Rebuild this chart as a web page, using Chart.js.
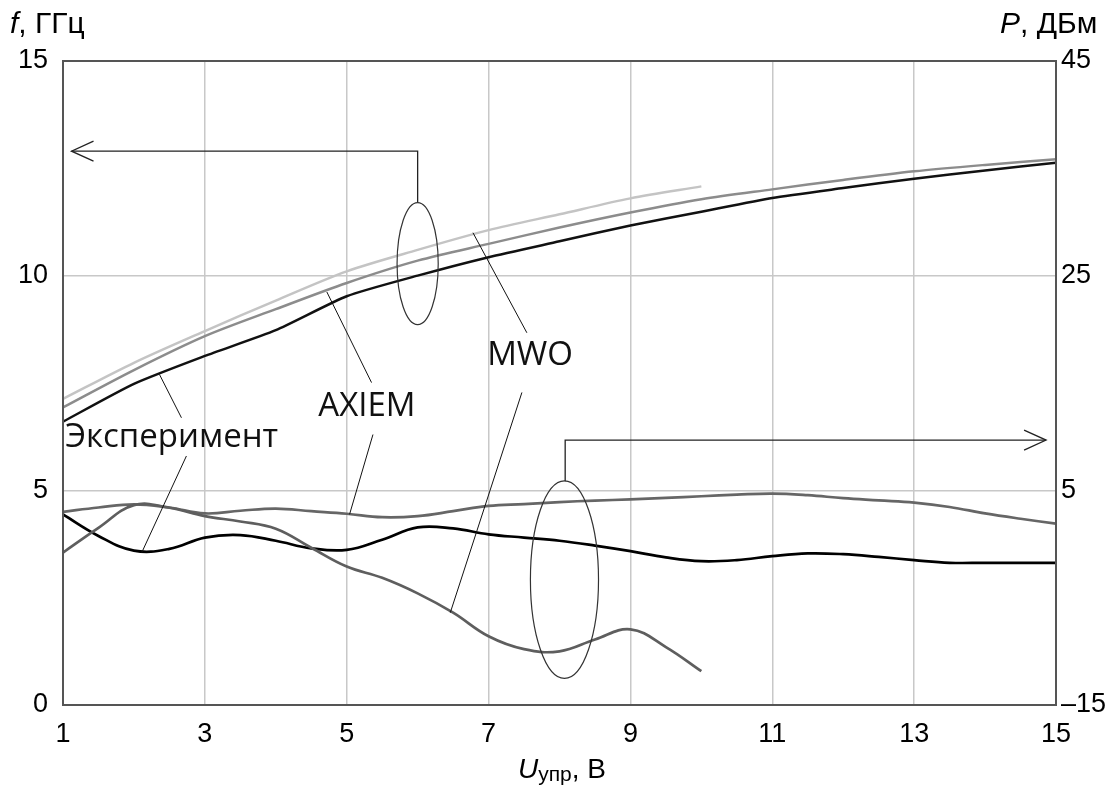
<!DOCTYPE html>
<html>
<head>
<meta charset="utf-8">
<script src="https://cdn.jsdelivr.net/npm/chart.js@4.4.1/dist/chart.umd.min.js"></script>
<style>
    html, body { margin: 0; padding: 0; background: #fff; }
    #wrap { width: 1116px; height: 787px; }
</style>
</head>
<body>
<div id="wrap"><canvas id="chart" width="1116" height="787"></canvas></div>
<script>
// =======================
// DATA
// =======================
// control voltage, V
const uCoarse = [1, 2, 3, 4, 5, 6, 7, 8, 9, 10, 11, 12, 13, 14, 15];
const uFine = [1, 1.5, 2, 2.5, 3, 3.5, 4, 4.5, 5, 5.5, 6, 6.5, 7, 7.5, 8, 8.5,
    9, 9.5, 10, 10.5, 11, 11.5, 12, 12.5, 13, 13.5, 14, 14.5, 15];

// frequency, GHz (left axis)
const fExperiment = [6.6, 7.48, 8.13, 8.73, 9.52, 10.0, 10.43, 10.8, 11.17, 11.49, 11.81, 12.04, 12.26, 12.45, 12.63];
const fAxiem = [6.93, 7.8, 8.59, 9.22, 9.83, 10.35, 10.74, 11.12, 11.47, 11.78, 12.01, 12.23, 12.43, 12.58, 12.71];
const fMwo = [7.13, 7.97, 8.71, 9.42, 10.1, 10.6, 11.06, 11.43, 11.8, 12.08]; // up to 10 V

// power, dBm (right axis)
const pExperiment = [2.75, 0.75, -0.62, -0.45, 0.6, 0.83, 0.3, -0.4, -0.55, 0.4, 1.55, 1.45, 0.9, 0.6, 0.3,
    -0.15, -0.67, -1.25, -1.6, -1.5, -1.13, -0.88, -0.95, -1.2, -1.5, -1.75, -1.75, -1.75, -1.75];
const pAxiem = [3.0, 3.4, 3.7, 3.4, 2.85, 3.1, 3.3, 3.06, 2.82, 2.5, 2.6, 3.06, 3.55, 3.72, 3.9,
    4.05, 4.15, 4.3, 4.45, 4.6, 4.7, 4.55, 4.27, 4.06, 3.85, 3.45, 2.85, 2.35, 1.9];
const pMwo = [-0.8, 1.5, 3.62, 3.38, 2.6, 2.1, 1.42, -0.35, -2.1, -3.15, -4.6, -6.4, -8.6, -9.8, -10.0,
    -8.9, -7.95, -9.6, -11.85]; // up to 10 V

// axis ticks
const xTicks = { min: 1, max: 15, step: 2 };
const fTicks = { min: 0, max: 15, step: 5 };
const pTicks = { min: -15, max: 45, step: 20 };

const pairs = (xs, ys) => ys.map((v, i) => ({ x: xs[i], y: v }));

// =======================
// ANNOTATIONS (data units: x in V, y in GHz)
// =======================
const leftArrow = { tipX: 1.12, cornerX: 6.0, y: 12.9, downTo: 11.7 };
const rightArrow = { tipX: 14.86, cornerX: 8.08, y: 6.17, downTo: 5.21 };
const ellipses = [
    { cx: 6.0, cy: 10.28, rx: 0.29, ry: 1.42 },
    { cx: 8.07, cy: 2.92, rx: 0.48, ry: 2.3 }
];
const leaders = [
    [2.67, 6.69, 2.36, 7.70],
    [5.35, 7.51, 4.72, 9.62],
    [7.54, 8.67, 6.78, 11.0],
    [2.74, 5.80, 2.11, 3.55],
    [5.37, 6.30, 5.04, 4.44],
    [7.47, 7.28, 6.46, 2.15]
];
const labels = [
    { text: "Эксперимент", x: 1.03, y: 6.0 },
    { text: "AXIEM", x: 4.6, y: 6.74 },
    { text: "MWO", x: 6.98, y: 7.91 }
];

const SANS = "'Liberation Sans', Arial, sans-serif";

const annotationPlugin = {
    id: "annotations",
    afterDatasetsDraw(chart) {
        const { ctx, chartArea: a, scales } = chart;
        const px = v => scales.x.getPixelForValue(v);
        const py = v => scales.y.getPixelForValue(v);
        ctx.save();

        // frame
        ctx.strokeStyle = "#555";
        ctx.lineWidth = 2;
        ctx.strokeRect(a.left, a.top, a.right - a.left, a.bottom - a.top);

        // arrows
        ctx.strokeStyle = "#222";
        ctx.lineWidth = 1.3;
        [leftArrow, rightArrow].forEach(ar => {
            const tx = px(ar.tipX), cx = px(ar.cornerX), yy = py(ar.y);
            const dir = tx < cx ? 1 : -1;
            ctx.beginPath();
            ctx.moveTo(cx, py(ar.downTo));
            ctx.lineTo(cx, yy);
            ctx.lineTo(tx, yy);
            ctx.stroke();
            ctx.beginPath();
            ctx.moveTo(tx + dir * 22, yy - 10);
            ctx.lineTo(tx, yy);
            ctx.lineTo(tx + dir * 22, yy + 10);
            ctx.stroke();
        });

        // ellipses
        ctx.lineWidth = 1.2;
        ctx.strokeStyle = "#333";
        ellipses.forEach(e => {
            const cx = px(e.cx), cy = py(e.cy);
            ctx.beginPath();
            ctx.ellipse(cx, cy, Math.abs(px(e.cx + e.rx) - cx), Math.abs(py(e.cy + e.ry) - cy), 0, 0, Math.PI * 2);
            ctx.stroke();
        });

        // leader lines
        ctx.lineWidth = 1;
        ctx.strokeStyle = "#111";
        leaders.forEach(l => {
            ctx.beginPath();
            ctx.moveTo(px(l[0]), py(l[1]));
            ctx.lineTo(px(l[2]), py(l[3]));
            ctx.stroke();
        });

        // curve labels
        ctx.fillStyle = "#111";
        ctx.font = "33px 'Open Sans', sans-serif";
        ctx.textBaseline = "alphabetic";
        ctx.textAlign = "left";
        labels.forEach(lb => ctx.fillText(lb.text, px(lb.x), py(lb.y)));

        ctx.restore();
    },
    afterDraw(chart) {
        const { ctx, chartArea: a } = chart;
        ctx.save();
        ctx.fillStyle = "#000";
        ctx.textBaseline = "alphabetic";
        ctx.textAlign = "left";

        // left axis title
        let x = a.left - 53;
        ctx.font = "italic 30px " + SANS;
        ctx.fillText("f", x, 33);
        x += ctx.measureText("f").width;
        ctx.font = "30px " + SANS;
        ctx.fillText(", ГГц", x, 33);

        // right axis title
        x = a.right - 56;
        ctx.font = "italic 30px " + SANS;
        ctx.fillText("P", x, 33);
        x += ctx.measureText("P").width;
        ctx.font = "30px " + SANS;
        ctx.fillText(", ДБм", x, 33);

        // bottom axis title
        x = 518;
        ctx.font = "italic 28px " + SANS;
        ctx.fillText("U", x, 778);
        x += ctx.measureText("U").width;
        ctx.font = "21px " + SANS;
        ctx.fillText("упр", x, 781);
        x += ctx.measureText("упр").width;
        ctx.font = "28px " + SANS;
        ctx.fillText(", В", x, 778);

        ctx.restore();
    }
};

const tickFont = { family: SANS, size: 27 };

new Chart(document.getElementById("chart"), {
    type: "line",
    data: {
        datasets: [
            { data: pairs(uCoarse, fMwo), yAxisID: "y", borderColor: "#c4c4c4", borderWidth: 2.5, tension: 0.3 },
            { data: pairs(uCoarse, fAxiem), yAxisID: "y", borderColor: "#8c8c8c", borderWidth: 2.5, tension: 0.3 },
            { data: pairs(uCoarse, fExperiment), yAxisID: "y", borderColor: "#111", borderWidth: 2.5, tension: 0.2 },
            { data: pairs(uFine, pMwo), yAxisID: "y2", borderColor: "#5e5e5e", borderWidth: 2.7, tension: 0.4 },
            { data: pairs(uFine, pAxiem), yAxisID: "y2", borderColor: "#666", borderWidth: 2.7, tension: 0.4 },
            { data: pairs(uFine, pExperiment), yAxisID: "y2", borderColor: "#000", borderWidth: 2.7, tension: 0.4 }
        ]
    },
    options: {
        responsive: false,
        animation: false,
        layout: { padding: { top: 61, left: 0, right: 0, bottom: 0 } },
        plugins: { legend: { display: false }, tooltip: { enabled: false } },
        elements: { point: { radius: 0 } },
        scales: {
            x: {
                type: "linear", min: xTicks.min, max: xTicks.max,
                ticks: { stepSize: xTicks.step, font: tickFont, color: "#000", padding: 13, maxRotation: 0 },
                grid: { color: "#c8c8c8", lineWidth: 1.5, drawTicks: false },
                border: { display: false },
                afterFit: s => { s.height = 82; }
            },
            y: {
                position: "left", min: fTicks.min, max: fTicks.max,
                ticks: { stepSize: fTicks.step, font: tickFont, color: "#000", padding: 15 },
                grid: { color: "#c8c8c8", lineWidth: 1.5, drawTicks: false },
                border: { display: false },
                afterFit: s => { s.width = 63; }
            },
            y2: {
                position: "right", min: pTicks.min, max: pTicks.max,
                ticks: {
                    stepSize: pTicks.step, font: tickFont, color: "#000", padding: 5,
                    callback: v => v < 0 ? "–" + Math.abs(v) : String(v)
                },
                grid: { display: false, drawTicks: false },
                border: { display: false },
                afterFit: s => { s.width = 60; }
            }
        }
    },
    plugins: [annotationPlugin]
});
</script>
</body>
</html>
